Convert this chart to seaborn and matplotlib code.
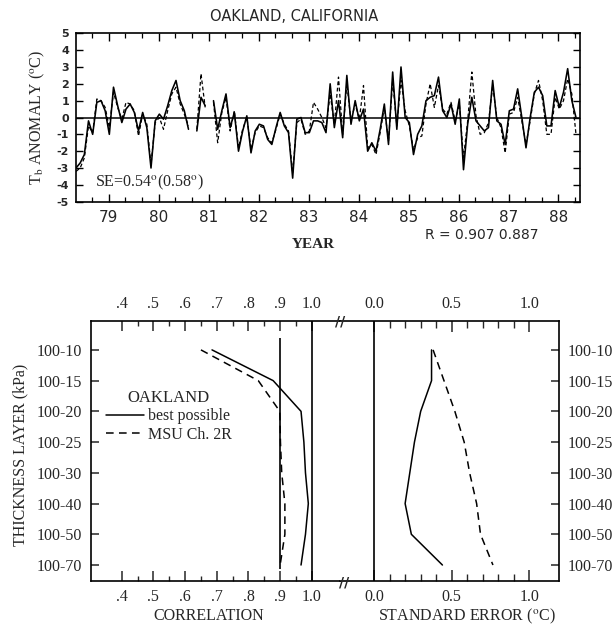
import numpy as np
import pandas as pd
import matplotlib
matplotlib.use("Agg")
import matplotlib.pyplot as plt
import seaborn as sns
from matplotlib.ticker import MultipleLocator, FixedLocator
from matplotlib.lines import Line2D

nan = np.nan

# ---------------- data ----------------
first_year = 78.35          # decimal year of first monthly value
solid_anom = [
    -3.0, -2.7, -2.2, -0.2, -1.0, 0.9, 1.0, 0.4, -1.0, 1.8,
    0.7, -0.3, 0.5, 0.8, 0.3, -0.8, 0.3, -0.6, -3.0, -0.2,
    0.2, -0.1, 0.7, 1.6, 2.2, 1.0, 0.4, -0.7, nan, -0.8,
    1.2, 0.7, nan, 1.0, -0.7, 0.4, 1.4, -0.6, 0.3, -2.0,
    -0.8, 0.1, -2.1, -0.8, -0.4, -0.5, -1.3, -1.6, -0.6, 0.3,
    -0.5, -0.9, -3.6, -0.1, 0.0, -0.9, -0.9, -0.2, -0.2, -0.3,
    -0.9, 2.0, -0.6, 1.0, -1.2, 2.5, -0.4, 1.0, -0.2, 0.5,
    -2.0, -1.5, -2.0, -0.7, 0.8, -1.6, 2.7, -0.7, 3.0, 0.0,
    -0.3, -2.2, -1.0, -0.5, 1.0, 1.2, 1.3, 2.4, 0.4, 0.0,
    0.8, -0.4, 1.1, -3.1, -0.4, 1.2, -0.2, -0.5, -0.8, -0.6,
    2.2, -0.2, -0.4, -1.6, 0.4, 0.5, 1.7, 0.0, -1.8, 0.0,
    1.5, 1.8, 1.3, -0.5, -0.5, 1.6, 0.6, 1.5, 2.9, 1.0,
    0.0]
dashed_anom = [
    -3.2, -3.0, -2.4, -0.5, -0.9, 1.1, 1.0, 0.6, -0.6, 1.5,
    0.6, -0.1, 0.9, 0.8, 0.4, -1.1, 0.2, -0.4, -2.8, -0.3,
    0.0, -0.7, 0.4, 1.4, 1.8, 0.8, 0.2, -0.5, nan, -0.7,
    2.6, 0.6, nan, 0.9, -1.5, 0.3, 1.2, -0.8, 0.4, -1.8,
    -0.7, 0.0, -1.9, -0.9, -0.5, -0.6, -1.2, -1.5, -0.7, 0.2,
    -0.4, -0.8, -3.3, -0.3, -0.1, -1.0, -0.8, 0.9, 0.5, 0.0,
    -0.6, 1.4, -0.4, 2.4, -1.0, 2.0, -0.2, 0.8, -0.1, 1.9,
    -1.8, -1.6, -2.2, -0.9, 0.6, -1.4, 2.2, -0.5, 2.2, 0.4,
    -0.5, -1.9, -1.2, -1.1, 0.8, 2.0, 0.6, 1.9, 0.5, 0.2,
    0.9, -0.2, 0.8, -2.4, -0.2, 2.7, 0.1, -1.0, -0.9, -0.3,
    1.9, 0.0, -0.6, -2.1, 0.2, 0.3, 1.2, -0.2, -1.6, -0.2,
    1.4, 2.2, 1.0, -1.0, -1.0, 1.2, 0.5, 1.0, 2.3, 1.4,
    -1.0]
year_ticks = [79, 80, 81, 82, 83, 84, 85, 86, 87, 88]
year_labels = ["79", "80", "81", "82", "83", "84", "85", "86", "87", "88"]
anom_ticks = [-5, -4, -3, -2, -1, 0, 1, 2, 3, 4, 5]
anom_labels = ["-5", "-4", "-3", "-2", "-1", "0", "1", "2", "3", "4", "5"]

layers = ["100-10", "100-15", "100-20", "100-25", "100-30", "100-40", "100-50", "100-70"]
corr_best = [0.685, 0.878, 0.966, 0.975, 0.980, 0.989, 0.980, 0.966]
corr_msu = [0.650, 0.831, 0.899, 0.901, 0.905, 0.915, 0.915, 0.900]
se_best = [0.37, 0.37, 0.30, 0.26, 0.23, 0.20, 0.24, 0.44]
se_msu = [0.38, 0.45, 0.52, 0.58, 0.615, 0.66, 0.685, 0.765]
corr_ticks = [0.4, 0.5, 0.6, 0.7, 0.8, 0.9, 1.0]
corr_labels = [".4", ".5", ".6", ".7", ".8", ".9", "1.0"]
se_ticks = [0.0, 0.5, 1.0]
se_labels = ["0.0", "0.5", "1.0"]
series_names = ["best possible", "MSU Ch. 2R"]

# ---------------- style ----------------
sns.set_theme(style="ticks")
plt.rcParams['font.family'] = ['DejaVu Sans']
plt.rcParams['mathtext.fontset'] = 'stix'
plt.rcParams['axes.linewidth'] = 1.2
SERIF = 'Liberation Serif'

W, H = 612, 628
fig = plt.figure(figsize=(W / 100, H / 100), dpi=100)
fig.patch.set_facecolor('white')

def fx(px):
    return px / W

def fy(py):
    return 1 - py / H

# ---------------- top panel ----------------
ax1 = fig.add_axes([fx(76), fy(201.7), fx(504), 168.4 / H])
months = np.arange(len(solid_anom))
years = first_year + months / 12.0
rows = []
for name, vals in zip(["solid", "dashed"], [solid_anom, dashed_anom]):
    seg = 0
    for yv, v in zip(years, vals):
        if np.isnan(v):
            seg += 1
            continue
        rows.append(dict(year=yv, anom=v, series=name, seg=seg))
df_top = pd.DataFrame(rows)

sns.lineplot(data=df_top[df_top.series == "solid"], x="year", y="anom", units="seg",
             estimator=None, sort=False, color="black", lw=1.15, ax=ax1, legend=False)
sns.lineplot(data=df_top[df_top.series == "dashed"], x="year", y="anom", units="seg",
             estimator=None, sort=False, color="black", lw=0.9, ax=ax1, legend=False,
             linestyle=(0, (3, 2)))
ax1.axhline(0, color="black", lw=1.1)
ax1.set_xlim(78.35, 88.43)
ax1.set_ylim(-5, 5)
ax1.xaxis.set_major_locator(FixedLocator(year_ticks))
ax1.set_xticklabels(year_labels)
ax1.xaxis.set_minor_locator(MultipleLocator(1 / 3))
ax1.yaxis.set_major_locator(FixedLocator(anom_ticks))
ax1.set_yticklabels(anom_labels)
ax1.tick_params(axis="both", which="both", direction="in", top=True, right=True,
                color="black")
ax1.tick_params(axis="x", which="major", length=6, width=1.0, labelsize=11, pad=6)
ax1.tick_params(axis="x", which="minor", length=3.5, width=0.9)
ax1.tick_params(axis="y", which="major", length=5, width=1.0, labelsize=8, pad=5)
for t in ax1.get_yticklabels():
    t.set_fontweight("bold")
ax1.set_xlabel("")
ax1.set_ylabel("")
for s in ax1.spines.values():
    s.set_color("black")

fig.text(fx(294), fy(16.7), "OAKLAND, CALIFORNIA", ha="center", va="center", fontsize=10.5)
fig.text(fx(37), fy(117), r"T$_\mathrm{b}$ ANOMALY ($^\mathrm{o}$C)", rotation=90,
         ha="center", va="center", fontsize=11.5, family=SERIF)
fig.text(fx(313), fy(245), "YEAR", ha="center", va="center", fontsize=11,
         family=SERIF, fontweight="bold")
fig.text(fx(482), fy(235), "R = 0.907 0.887", ha="center", va="center", fontsize=10)
ax1.text(78.35 + 19 / 50, -3.85, r"SE=0.54$^\mathrm{o}$(0.58$^\mathrm{o}$)",
         ha="left", va="center", fontsize=11.5, family=SERIF)

# ---------------- bottom panels ----------------
pos = np.arange(len(layers))
df_corr = pd.DataFrame({
    "layer": layers * 2,
    "pos": np.concatenate([pos, pos]),
    "value": corr_best + corr_msu,
    "series": [series_names[0]] * len(layers) + [series_names[1]] * len(layers),
})
df_se = pd.DataFrame({
    "layer": layers * 2,
    "pos": np.concatenate([pos, pos]),
    "value": se_best + se_msu,
    "series": [series_names[0]] * len(layers) + [series_names[1]] * len(layers),
})
dash_map = {series_names[0]: "", series_names[1]: (5, 3.5)}

bot, hgt = fy(581), 260.3 / H
axL = fig.add_axes([fx(90.7), bot, fx(249.3), hgt])
axR = fig.add_axes([fx(340), bot, fx(219), hgt])

for ax, df in [(axL, df_corr), (axR, df_se)]:
    sns.lineplot(data=df, x="value", y="pos", style="series", units="series",
                 estimator=None, sort=False, color="black", lw=1.1,
                 dashes=dash_map, ax=ax, legend=False)
    ax.set_ylim(7.52, -0.95)
    ax.set_xlabel("")
    ax.set_ylabel("")
    for s in ax.spines.values():
        s.set_color("black")

axL.axvline(1.0, color="black", lw=1.2)
axL.vlines(0.9, -0.4, 7.13, color="black", lw=1.2)
axR.axvline(0.0, color="black", lw=1.2)

axL.set_xlim(0.302, 1.089)
axR.set_xlim(-0.219, 1.19)
axL.spines["right"].set_visible(False)
axR.spines["left"].set_visible(False)

axL.xaxis.set_major_locator(FixedLocator(corr_ticks))
axL.set_xticklabels(corr_labels)
axL.xaxis.set_minor_locator(FixedLocator([0.45, 0.55, 0.65, 0.75, 0.85, 0.95]))
axL.yaxis.set_major_locator(FixedLocator(list(pos)))
axL.set_yticklabels(layers)
axL.tick_params(axis="x", which="both", direction="in", top=True, bottom=True,
                labeltop=True, labelbottom=True)
axL.tick_params(axis="x", which="major", length=7, width=1.1, pad=6)
axL.tick_params(axis="x", which="minor", length=3.5, width=1.0)
axL.tick_params(axis="y", which="both", direction="in", left=True, right=False,
                length=6, width=1.1, pad=6)

axR.xaxis.set_major_locator(FixedLocator(se_ticks))
axR.set_xticklabels(se_labels)
axR.xaxis.set_minor_locator(FixedLocator([0.1, 0.2, 0.3, 0.4, 0.6, 0.7, 0.8, 0.9]))
axR.yaxis.set_major_locator(FixedLocator(list(pos)))
axR.set_yticklabels(layers)
axR.yaxis.tick_right()
axR.tick_params(axis="x", which="both", direction="in", top=True, bottom=True,
                labeltop=True, labelbottom=True)
axR.tick_params(axis="x", which="major", length=8, width=1.1, pad=6)
axR.tick_params(axis="x", which="minor", length=5, width=1.0)
axR.tick_params(axis="y", which="both", direction="in", right=True, left=False,
                labelright=True, labelleft=False, length=6, width=1.1, pad=6)

for ax in (axL, axR):
    for t in ax.get_xticklabels() + ax.get_yticklabels():
        t.set_family(SERIF)
        t.set_fontsize(11.5)

# legend
handles = [Line2D([], [], color="black", lw=1.1),
           Line2D([], [], color="black", lw=1.1, dashes=(5, 3.5))]
leg = axL.legend(handles, series_names, title="OAKLAND", loc="upper left",
                 bbox_to_anchor=(0.03, 0.765), frameon=False, handlelength=2.4,
                 handletextpad=0.2, labelspacing=0.15, borderpad=0,
                 prop={"family": SERIF, "size": 11.5})
leg.get_title().set_family(SERIF)
leg.get_title().set_fontsize(12)

# axis titles
fig.text(fx(209), fy(616), "CORRELATION", ha="center", va="center", fontsize=11.5,
         family=SERIF)
fig.text(fx(467), fy(616), r"STANDARD ERROR ($^\mathrm{o}$C)", ha="center", va="center",
         fontsize=11.5, family=SERIF)
fig.text(fx(20), fy(455), "THICKNESS LAYER (kPa)", rotation=90, ha="center", va="center",
         fontsize=11.5, family=SERIF)

# axis break marks
fig.text(fx(340), fy(321), "//", ha="center", va="center", fontsize=10, fontweight="bold")
fig.text(fx(344), fy(583), "//", ha="center", va="center", fontsize=10, fontweight="bold")

fig.savefig("out.png", dpi=100, facecolor="white")
